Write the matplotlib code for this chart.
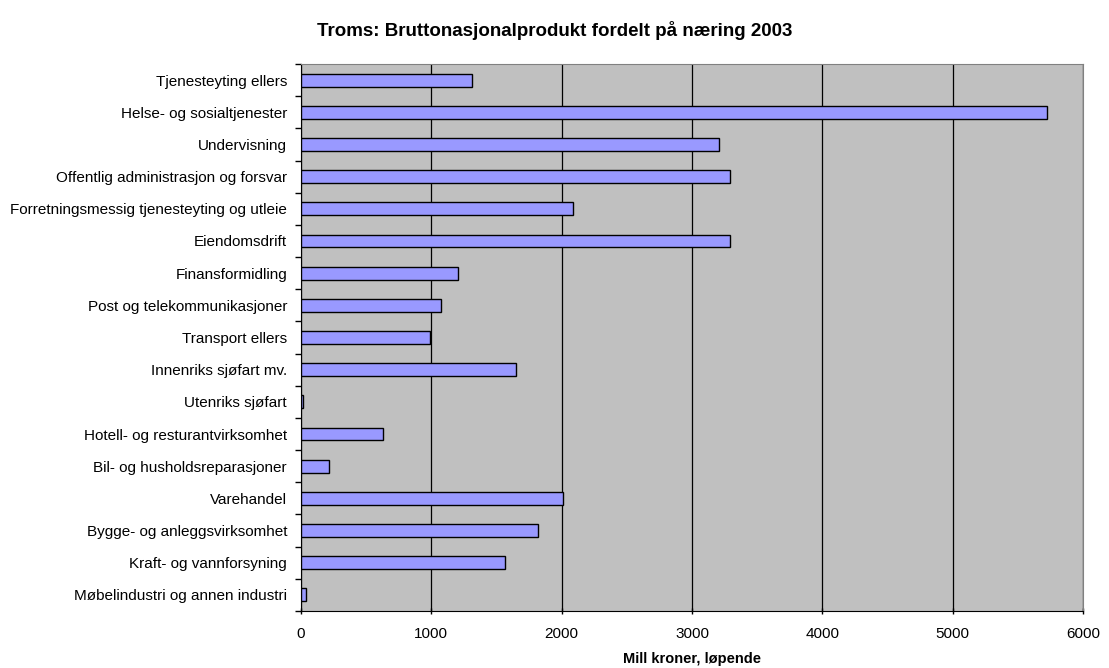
import numpy as np
import matplotlib.pyplot as plt

plt.rcParams['font.family'] = ['Liberation Sans', 'DejaVu Sans']

# naeringer, ovenfra og ned
naeringer = [
    "Tjenesteyting ellers",
    "Helse- og sosialtjenester",
    "Undervisning",
    "Offentlig administrasjon og forsvar",
    "Forretningsmessig tjenesteyting og utleie",
    "Eiendomsdrift",
    "Finansformidling",
    "Post og telekommunikasjoner",
    "Transport ellers",
    "Innenriks sjøfart mv.",
    "Utenriks sjøfart",
    "Hotell- og resturantvirksomhet",
    "Bil- og husholdsreparasjoner",
    "Varehandel",
    "Bygge- og anleggsvirksomhet",
    "Kraft- og vannforsyning",
    "Møbelindustri og annen industri",
]
verdier = [1311, 5721, 3205, 3295, 2086, 3295, 1204, 1071, 992, 1649,
           15, 632, 215, 2007, 1820, 1565, 38]
x_ticks = [0, 1000, 2000, 3000, 4000, 5000, 6000]

fig = plt.figure(figsize=(11.09, 6.68), dpi=100)
ax = fig.add_axes([301/1109, 1 - 611/668, (1083 - 301)/1109, (611 - 64)/668])

y = np.arange(len(naeringer))
ax.barh(y, verdier, height=0.4, color='#9999FF', edgecolor='black', linewidth=1, zorder=3)

ax.set_facecolor('#C0C0C0')
ax.set_xlim(0, 6000)
ax.set_ylim(len(naeringer) - 0.5, -0.5)
ax.set_xticks(x_ticks)
ax.set_xticklabels([str(t) for t in x_ticks], fontsize=11)
ax.set_yticks(y)
ax.set_yticklabels(naeringer, fontsize=11)
ax.tick_params(axis='y', length=0, pad=10)
ax.set_yticks(np.arange(len(naeringer) + 1) - 0.5, minor=True)
ax.tick_params(axis='y', which='minor', length=4, width=1, direction='out')
ax.tick_params(axis='x', length=5, width=1, direction='inout', pad=9)
ax.xaxis.grid(True, color='black', linewidth=0.9, zorder=1)
ax.set_axisbelow(True)

for s in ['top', 'right']:
    ax.spines[s].set_color('#808080')
for s in ['left', 'bottom']:
    ax.spines[s].set_color('black')

ax.set_xlabel("Mill kroner, løpende", fontsize=10.5, fontweight='bold', va='center')
ax.xaxis.set_label_coords(0.5, (611 - 659) / 547)
fig.text(0.5, 1 - 30/668, "Troms: Bruttonasjonalprodukt fordelt på næring 2003",
         ha='center', va='center', fontsize=13.5, fontweight='bold')

plt.savefig("out.png", dpi=100)
